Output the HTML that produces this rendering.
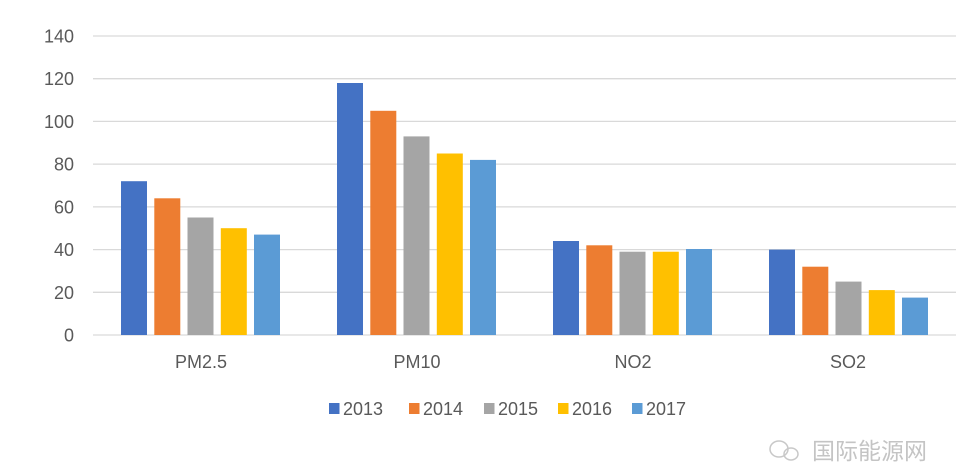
<!DOCTYPE html>
<html>
<head>
<meta charset="utf-8">
<style>
html,body{margin:0;padding:0;background:#fff;}
svg{display:block;}
text{font-family:"Liberation Sans","Noto Sans CJK SC",sans-serif;fill:#595959;}
</style>
</head>
<body>
<svg width="960" height="463" viewBox="0 0 960 463" xmlns="http://www.w3.org/2000/svg">
<rect width="960" height="463" fill="#ffffff"/>
<!-- gridlines -->
<g stroke="#d9d9d9" stroke-width="1.3">
<line x1="93" y1="36" x2="956" y2="36"/>
<line x1="93" y1="78.7" x2="956" y2="78.7"/>
<line x1="93" y1="121.4" x2="956" y2="121.4"/>
<line x1="93" y1="164.1" x2="956" y2="164.1"/>
<line x1="93" y1="206.9" x2="956" y2="206.9"/>
<line x1="93" y1="249.6" x2="956" y2="249.6"/>
<line x1="93" y1="292.3" x2="956" y2="292.3"/>
<line x1="93" y1="335" x2="956" y2="335"/>
</g>
<!-- y labels -->
<g font-size="18" text-anchor="end">
<text x="74" y="42.5">140</text>
<text x="74" y="85.2">120</text>
<text x="74" y="127.9">100</text>
<text x="74" y="170.6">80</text>
<text x="74" y="213.4">60</text>
<text x="74" y="256.1">40</text>
<text x="74" y="298.8">20</text>
<text x="74" y="341.5">0</text>
</g>
<!-- bars: PM2.5 -->
<rect x="121" y="181.2" width="26" height="153.8" fill="#4472C4"/>
<rect x="154.3" y="198.3" width="26" height="136.7" fill="#ED7D31"/>
<rect x="187.5" y="217.5" width="26" height="117.5" fill="#A5A5A5"/>
<rect x="220.8" y="228.2" width="26" height="106.8" fill="#FFC000"/>
<rect x="254" y="234.6" width="26" height="100.4" fill="#5B9BD5"/>
<!-- PM10 -->
<rect x="337" y="83" width="26" height="252" fill="#4472C4"/>
<rect x="370.3" y="110.8" width="26" height="224.2" fill="#ED7D31"/>
<rect x="403.5" y="136.4" width="26" height="198.6" fill="#A5A5A5"/>
<rect x="436.8" y="153.5" width="26" height="181.5" fill="#FFC000"/>
<rect x="470" y="159.9" width="26" height="175.1" fill="#5B9BD5"/>
<!-- NO2 -->
<rect x="553" y="241" width="26" height="94" fill="#4472C4"/>
<rect x="586.3" y="245.3" width="26" height="89.7" fill="#ED7D31"/>
<rect x="619.5" y="251.7" width="26" height="83.3" fill="#A5A5A5"/>
<rect x="652.8" y="251.7" width="26" height="83.3" fill="#FFC000"/>
<rect x="686" y="249" width="26" height="86" fill="#5B9BD5"/>
<!-- SO2 -->
<rect x="769" y="249.6" width="26" height="85.4" fill="#4472C4"/>
<rect x="802.3" y="266.7" width="26" height="68.3" fill="#ED7D31"/>
<rect x="835.5" y="281.6" width="26" height="53.4" fill="#A5A5A5"/>
<rect x="868.8" y="290.1" width="26" height="44.9" fill="#FFC000"/>
<rect x="902" y="297.6" width="26" height="37.4" fill="#5B9BD5"/>
<!-- category labels -->
<g font-size="18" text-anchor="middle">
<text x="201" y="368">PM2.5</text>
<text x="417" y="368">PM10</text>
<text x="633" y="368">NO2</text>
<text x="848" y="368">SO2</text>
</g>
<!-- legend -->
<rect x="329" y="403" width="10.5" height="11" fill="#4472C4"/>
<text x="343" y="415" font-size="18">2013</text>
<rect x="409" y="403" width="10.5" height="11" fill="#ED7D31"/>
<text x="423" y="415" font-size="18">2014</text>
<rect x="484" y="403" width="10.5" height="11" fill="#A5A5A5"/>
<text x="498" y="415" font-size="18">2015</text>
<rect x="558" y="403" width="10.5" height="11" fill="#FFC000"/>
<text x="572" y="415" font-size="18">2016</text>
<rect x="632" y="403" width="10.5" height="11" fill="#5B9BD5"/>
<text x="646" y="415" font-size="18">2017</text>
<!-- watermark -->
<g fill="none" stroke="#c8c8c8" stroke-width="1.5">
<ellipse cx="779" cy="449" rx="9" ry="8"/>
<ellipse cx="791" cy="454" rx="7" ry="6"/>
</g>
<text x="812" y="459" font-size="23" style="fill:#c4c4c4" font-family="'Noto Sans CJK SC',sans-serif">国际能源网</text>
</svg>
</body>
</html>
